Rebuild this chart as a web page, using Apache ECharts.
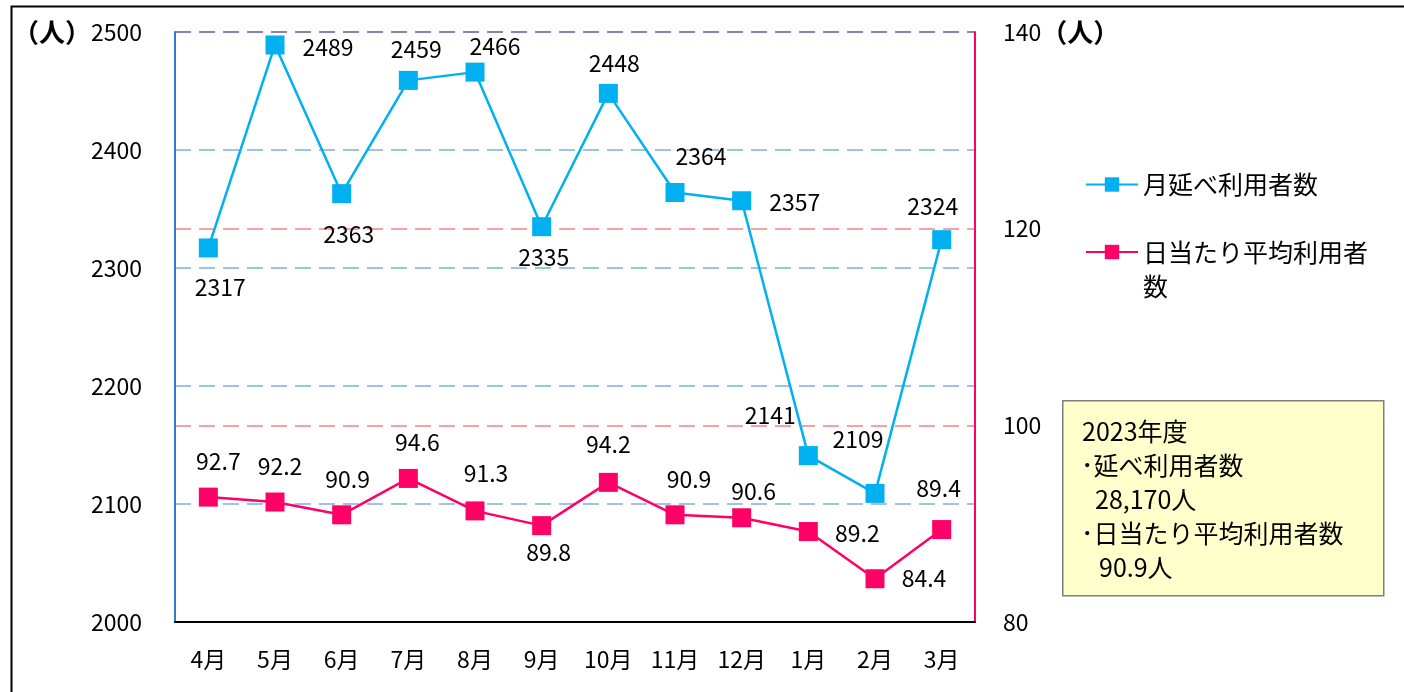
<!DOCTYPE html>
<html>
<head>
<meta charset="utf-8">
<script src="https://cdn.jsdelivr.net/npm/echarts@6/dist/echarts.min.js"></script>
<style>
  html, body { margin: 0; padding: 0; background: #fff; }
  #main { width: 1404px; height: 692px; }
</style>
</head>
<body>
<div id="main"></div>
<script>
  // データ
  const months = ['4月', '5月', '6月', '7月', '8月', '9月', '10月', '11月', '12月', '1月', '2月', '3月'];
  const monthlyUsers = [2317, 2489, 2363, 2459, 2466, 2335, 2448, 2364, 2357, 2141, 2109, 2324];
  const dailyAvgUsers = [92.7, 92.2, 90.9, 94.6, 91.3, 89.8, 94.2, 90.9, 90.6, 89.2, 84.4, 89.4];
  const leftTicks = [2000, 2100, 2200, 2300, 2400, 2500];
  const rightTicks = [80, 100, 120, 140];
  const summaryLines = ['2023年度', '･延べ利用者数', '28,170人', '･日当たり平均利用者数', '90.9人'];

  // ラベル位置（マーカー中心からのずれ）
  const monthlyLabelOffset = [[12, 39], [53, 2], [7, 41], [8, -31], [20, -26], [2, 31], [6, -30], [26, -36], [53, 2], [-38, -40], [-17, -54], [-9, -33]];
  const dailyLabelOffset = [[10, -36], [5, -36], [6, -36], [9, -36], [11, -38], [7, 27], [0, -38], [14, -36], [12, -27], [49, 2], [49, 0], [-3, -41]];
  const summaryIndent = [1082, 1081, 1095, 1081, 1099];

  const FONT = 'Noto Sans CJK JP';
  const BLUE = '#00B0F0';
  const PINK = '#FF0066';

  let myChart = echarts.init(document.getElementById('main'));

  const withOffsets = (vals, offs) => vals.map((v, i) => ({
    value: v,
    label: { offset: offs[i] }
  }));

  const summaryTexts = summaryLines.map((t, i) => ({
    type: 'text',
    left: summaryIndent[i],
    top: 419 + i * 34,
    style: { text: t, font: '25px "' + FONT + '"', fill: '#000' }
  }));

  const unitRich = { u: { fontSize: 26, fontWeight: 'bold', color: '#000', fontFamily: FONT } };

  myChart.setOption({
    animation: false,
    textStyle: { fontFamily: FONT },
    grid: { left: 175, right: 429, top: 32, bottom: 70 },
    legend: [
      {
        left: 1085, top: 172, padding: 0,
        itemWidth: 52, itemHeight: 18,
        textStyle: { fontSize: 25, color: '#000', fontFamily: FONT },
        data: ['月延べ利用者数']
      },
      {
        left: 1085, top: 201, padding: 0,
        itemWidth: 52, itemHeight: 18,
        textStyle: { fontSize: 25, color: '#000', fontFamily: FONT, width: 230, overflow: 'break', lineHeight: 34 },
        // 先頭に空行を入れて、1行目をマーカーの高さに揃える
        formatter: name => '\n' + name,
        data: ['日当たり平均利用者数']
      }
    ],
    xAxis: {
      type: 'category',
      data: months,
      axisLine: { lineStyle: { color: '#000', width: 2 } },
      axisTick: { inside: true, length: 8, lineStyle: { color: '#000', width: 2 } },
      axisLabel: { color: '#000', fontSize: 23, margin: 26, fontFamily: FONT }
    },
    yAxis: [
      {
        type: 'value',
        min: leftTicks[0], max: leftTicks[leftTicks.length - 1], interval: 100,
        axisLine: { show: true, lineStyle: { color: '#2E7BCF', width: 2 } },
        axisTick: { show: false },
        axisLabel: {
          color: '#000', fontSize: 23, margin: 33, fontFamily: FONT,
          formatter: v => v === 2500 ? '{u|（人）}' + v : '' + v,
          rich: unitRich
        },
        splitLine: {
          lineStyle: {
            color: ['#9DC3E6', '#9DC3E6', '#9DC3E6', '#9DC3E6', '#9DC3E6', '#8E80B4'],
            width: 2, type: [16, 8]
          }
        }
      },
      {
        type: 'value',
        min: rightTicks[0], max: rightTicks[rightTicks.length - 1], interval: 20,
        axisLine: { show: true, lineStyle: { color: PINK, width: 2 } },
        axisTick: { show: false },
        axisLabel: {
          color: '#000', fontSize: 23, margin: 28, fontFamily: FONT,
          formatter: v => v === 140 ? v + '{u|（人）}' : '' + v,
          rich: unitRich
        },
        splitLine: {
          lineStyle: {
            color: ['rgba(0,0,0,0)', '#F4A3A3', '#F4A3A3', 'rgba(0,0,0,0)'],
            width: 2, type: [16, 8]
          }
        }
      }
    ],
    series: [
      {
        name: '月延べ利用者数',
        type: 'line',
        yAxisIndex: 0,
        data: withOffsets(monthlyUsers, monthlyLabelOffset),
        symbol: 'rect', symbolSize: 19,
        itemStyle: { color: BLUE },
        lineStyle: { color: BLUE, width: 2.5 },
        label: { show: true, position: 'inside', color: '#000', fontSize: 23, fontFamily: FONT }
      },
      {
        name: '日当たり平均利用者数',
        type: 'line',
        yAxisIndex: 1,
        data: withOffsets(dailyAvgUsers, dailyLabelOffset),
        symbol: 'rect', symbolSize: 19,
        itemStyle: { color: PINK },
        lineStyle: { color: PINK, width: 2.5 },
        label: { show: true, position: 'inside', color: '#000', fontSize: 23, fontFamily: FONT }
      }
    ],
    graphic: [
      {
        type: 'rect', left: 9, top: 4, silent: true,
        shape: { width: 1420, height: 720 },
        style: { fill: 'none', stroke: '#000', lineWidth: 2 }
      },
      {
        type: 'rect', left: 1062, top: 400,
        shape: { width: 321, height: 195 },
        style: { fill: '#FFFFCC', stroke: '#7F7F7F', lineWidth: 1.5 }
      }
    ].concat(summaryTexts)
  });
</script>
</body>
</html>
